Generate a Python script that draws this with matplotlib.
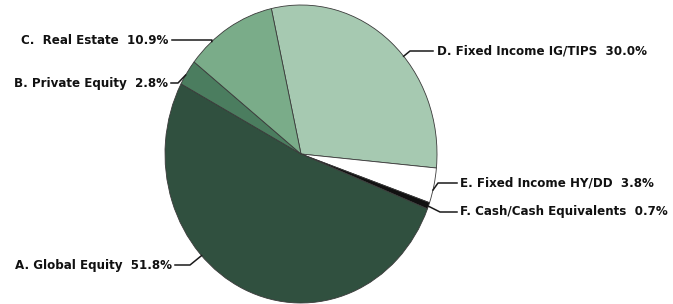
import numpy as np
import matplotlib
matplotlib.use("Agg")
import matplotlib.pyplot as plt

# slices in drawing order (clockwise from the top)
names = ["D. Fixed Income IG/TIPS", "E. Fixed Income HY/DD", "F. Cash/Cash Equivalents",
         "A. Global Equity", "B. Private Equity", "C.  Real Estate"]
shares = [30.0, 3.8, 0.7, 51.8, 2.8, 10.9]
colors = ["#a6c9b1", "#ffffff", "#111111", "#30503f", "#4b7d5f", "#7aac89"]

W, H = 673, 304
# pie box in pixels (top-left origin)
cx, cy, rx, ry = 301, 154, 136, 149

fig = plt.figure(figsize=(W / 100, H / 100), dpi=100)
ax = fig.add_axes([(cx - rx) / W, (H - cy - ry) / H, 2 * rx / W, 2 * ry / H])

wedges, _ = ax.pie(shares, colors=colors, startangle=102.6, counterclock=False,
                   wedgeprops=dict(edgecolor="#3a3a3a", linewidth=0.6))
ax.set_aspect("auto")
ax.set_xlim(-1, 1)
ax.set_ylim(-1, 1)
ax.axis("off")


def px(x, y):
    return (x - cx) / rx, (cy - y) / ry


# label layout: anchor angle on pie, elbow and line end (pixels), text x, side
layout = {
    "D. Fixed Income IG/TIPS": (41, (410, 51), (433, 51), 437, "left"),
    "E. Fixed Income HY/DD": (-14, (438, 183), (457, 183), 460, "left"),
    "F. Cash/Cash Equivalents": (-20.5, (440, 212), (457, 212), 460, "left"),
    "A. Global Equity": (223, (190, 265), (175, 265), 172, "right"),
    "B. Private Equity": (148, (178, 83), (171, 83), 168, "right"),
    "C.  Real Estate": (131, (212, 40), (172, 40), 168, "right"),
}

for name, val in zip(names, shares):
    ang, elbow, end, tx, ha = layout[name]
    a = np.deg2rad(ang)
    ax0, ay0 = np.cos(a), np.sin(a)
    ex, ey = px(*elbow)
    lx, ly = px(*end)
    ax.plot([ax0, ex, lx], [ay0, ey, ly], color="#1a1a1a", lw=1.1, clip_on=False)
    tx_d, ty_d = px(tx, end[1])
    ax.text(tx_d, ty_d, f"{name}  {val:.1f}%", ha=ha, va="center",
            fontsize=8.6, fontweight="bold", color="#111111", clip_on=False)

fig.savefig("out.png", dpi=100)
plt.close(fig)
